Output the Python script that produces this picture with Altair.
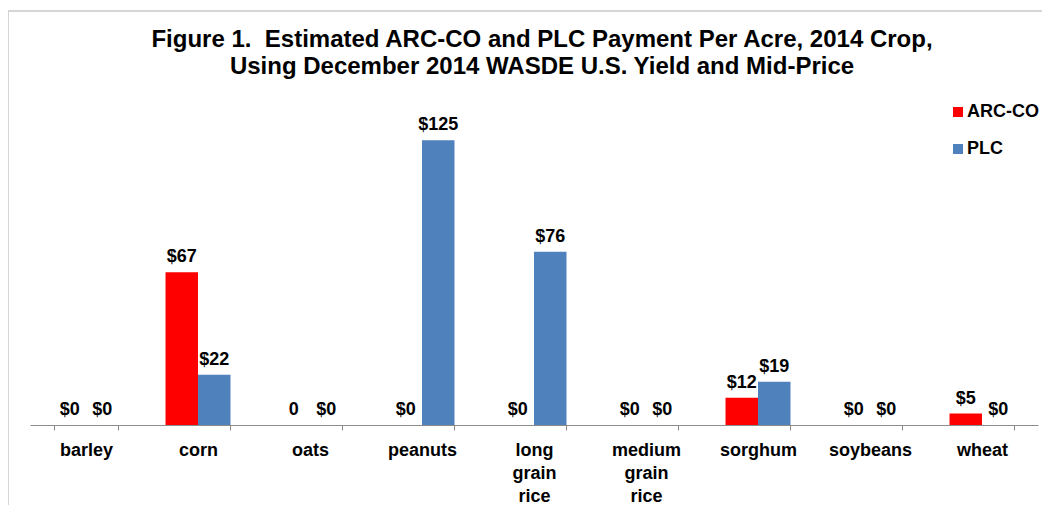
import altair as alt
import pandas as pd

categories = ["barley", "corn", "oats", "peanuts", "long grain rice",
              "medium grain rice", "sorghum", "soybeans", "wheat"]
series = ["ARC-CO", "PLC"]
arc_values = [0, 67, 0, 0, 0, 0, 12, 0, 5]
plc_values = [0, 22, 0, 125, 76, 0, 19, 0, 0]
arc_labels = ["$0", "$67", "0", "$0", "$0", "$0", "$12", "$0", "$5"]
plc_labels = ["$0", "$22", "$0", "$125", "$76", "$0", "$19", "$0", "$0"]
colors = ["#FF0000", "#4F81BD"]

rows = []
for c, a, p, la, lp in zip(categories, arc_values, plc_values, arc_labels, plc_labels):
    rows.append({"crop": c, "series": "ARC-CO", "value": a, "label": la})
    rows.append({"crop": c, "series": "PLC", "value": p, "label": lp})
df = pd.DataFrame(rows)

FONT = "Liberation Sans"

x_enc = alt.X(
    "crop:N", sort=categories,
    scale=alt.Scale(paddingInner=0.42, paddingOuter=0.21),
    axis=alt.Axis(title=None, labelAngle=0, labelExpr="split(datum.label, ' ')",
                  tickBand="extent", domainColor="#8c8c8c", tickColor="#8c8c8c",
                  tickSize=5, labelFont=FONT, labelFontSize=18, labelFontWeight="bold",
                  labelColor="black", labelPadding=11, labelLineHeight=23,
                  labelBaseline="top"),
)
xo_enc = alt.XOffset("series:N", sort=series, scale=alt.Scale(paddingInner=0, paddingOuter=0))
y_enc = alt.Y("value:Q", axis=None, scale=alt.Scale(domain=[0, 140], nice=False))

base = alt.Chart(df)
bars = base.mark_bar().encode(
    x=x_enc, xOffset=xo_enc, y=y_enc,
    color=alt.Color("series:N", sort=series,
                    scale=alt.Scale(domain=series, range=colors),
                    legend=alt.Legend(title=None, orient="none", legendX=919, legendY=-3,
                                      symbolType="square", symbolSize=100,
                                      symbolStrokeWidth=0, symbolOpacity=1,
                                      labelFont=FONT, labelFontSize=18,
                                      labelFontWeight="bold", labelColor="black",
                                      rowPadding=19, labelOffset=0)),
)
texts = base.mark_text(baseline="bottom", dy=-6, font=FONT, fontSize=18,
                       fontWeight="bold", color="black").encode(
    x=x_enc, xOffset=xo_enc, y=y_enc, text="label:N")

frame_df = pd.DataFrame({"k": [0]})
left_line = alt.Chart(frame_df).mark_rule(color="#c8c8c8", strokeWidth=1.5).encode(
    x=alt.value(-22), y=alt.value(-95), y2=alt.value(420))
top_line = alt.Chart(frame_df).mark_rule(color="#c8c8c8", strokeWidth=1.5).encode(
    x=alt.value(-22), x2=alt.value(1020), y=alt.value(-95))

chart = alt.layer(left_line, top_line, bars, texts).properties(
    width=1008, height=319,
    title=alt.TitleParams(
        text=["Figure 1.\u00a0 Estimated ARC-CO and PLC Payment Per Acre, 2014 Crop,",
              "Using December 2014 WASDE U.S. Yield and Mid-Price"],
        font=FONT, fontSize=24, fontWeight="bold", color="black",
        lineHeight=27, anchor="middle", offset=-69, dx=8),
    autosize=alt.AutoSizeParams(type="none"),
    padding={"left": 22, "top": 98, "right": 4, "bottom": 80},
).configure_view(strokeWidth=0)

chart.save("out.html", embed_options={"renderer": "svg", "actions": False})
